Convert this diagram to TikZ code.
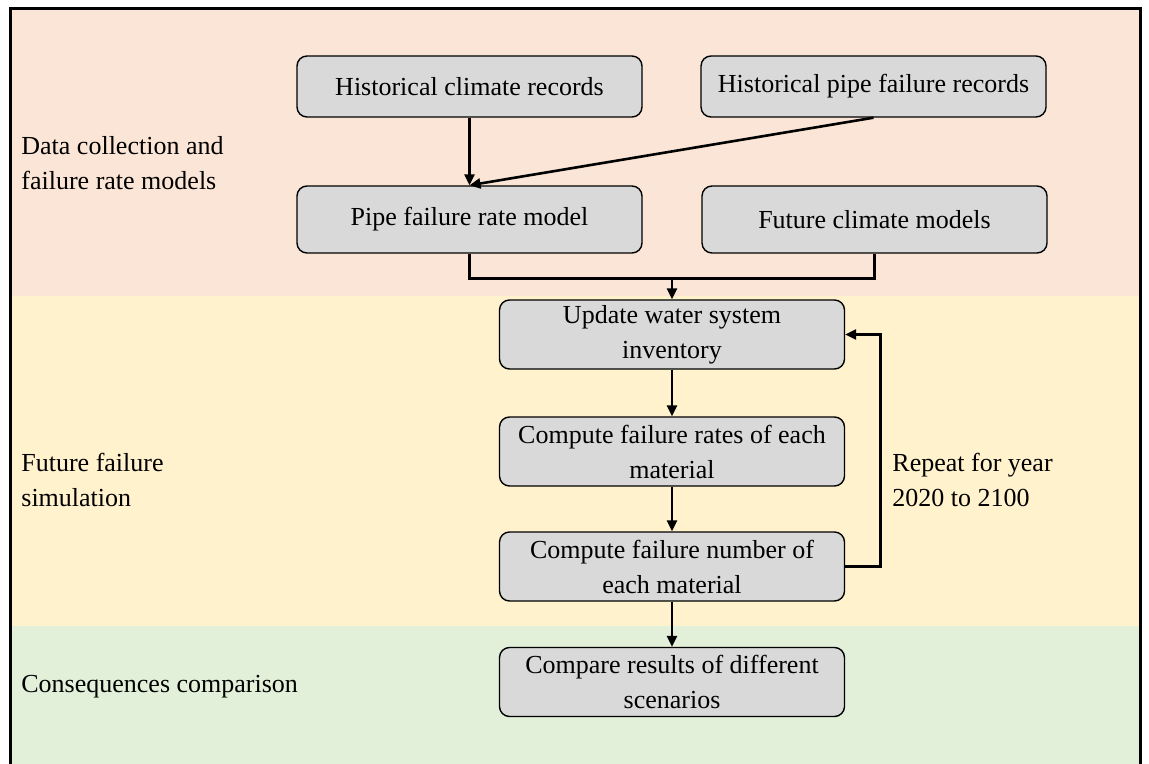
\documentclass[tikz,border=0pt]{standalone}
\usepackage{fontspec}
\setmainfont{Liberation Serif}
\usetikzlibrary{arrows.meta}
\definecolor{band top}{RGB}{251,229,214}
\definecolor{band mid}{RGB}{255,242,204}
\definecolor{band low}{RGB}{226,240,217}
\definecolor{box gray}{RGB}{217,217,217}
\tikzset{
  stepbox/.style={draw=black, fill=box gray, rounded corners=5pt, line width=0.7pt,
    minimum width=172.5pt, minimum height=34.5pt, align=center, inner sep=1pt,
    font=\fontsize{13}{17.5}\selectfont},
  bandtext/.style={anchor=west, align=left, inner sep=2pt, font=\fontsize{13}{17.5}\selectfont},
  wire/.style={draw, line width=1.3pt},
  link/.style={wire, -{Triangle[length=5.5pt,width=5pt]}}
  }

\begin{document}
\begin{tikzpicture}[x=0.5pt,y=-0.5pt]
    \useasboundingbox (0,0) rectangle (1149,764);

    % The three bands and the frame
    \fill[band top] (10,9) rectangle (1140,296);
    \fill[band mid] (10,296) rectangle (1140,626);
    \fill[band low] (10,626) rectangle (1140,764);
    \draw[line width=1.5pt] (10,764) -- (10,9) -- (1140,9) -- (1140,764);

    % Band titles
    \node[bandtext] (collect) at (17,163) {Data collection and\\failure rate models};
    \node[bandtext] (simulate) at (17,480) {Future failure\\simulation};
    \node[bandtext] (consequence) at (17,687) {Consequences comparison};

    % The steps
    \node[stepbox, minimum height=30.5pt] (climrec) at (469.5,86.5) {Historical climate records};
    \node[stepbox, minimum height=30.5pt] (piperec) at (873.5,86.5) {Historical pipe failure records};
    \node[stepbox, minimum height=33.5pt] (ratemodel) at (469.5,219.5) {Pipe failure rate model};
    \node[stepbox, minimum height=33.5pt] (futclim) at (874.5,219.5) {Future climate models};
    \node[stepbox] (inventory) at (672,334.5) {Update water system\\inventory};
    \node[stepbox] (rates) at (672,451.5) {Compute failure rates of each\\material};
    \node[stepbox] (number) at (672,566.5) {Compute failure number of\\each material};
    \node[stepbox] (compare) at (672,682) {Compare results of different\\scenarios};

    % The connections between them
    \draw[link] (climrec) -- (ratemodel);
    \draw[link] (piperec.south) -- (ratemodel.north);
    \coordinate (merge) at (672,278);
    \draw[wire] (ratemodel.south) -- ++(0,25) -| (futclim.south);
    \draw[link] (merge) -- (inventory);
    \foreach \source/\sink in {inventory/rates, rates/number, number/compare} {
      \draw[link] (\source) -- (\sink);
    }

    % The yearly loop
    \draw[link] (number.east) -- ++(35,0) |- (inventory.east);
    \node[bandtext] (repeat) at (888,480) {Repeat for year\\2020 to 2100};

\end{tikzpicture}
\end{document}
